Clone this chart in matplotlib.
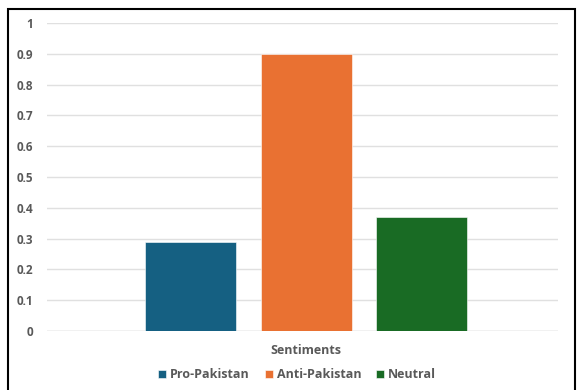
import matplotlib.pyplot as plt
from matplotlib.patches import Rectangle

# data
category = "Sentiments"
series = ["Pro-Pakistan", "Anti-Pakistan", "Neutral"]
values = [0.29, 0.90, 0.37]
colors = ["#156082", "#E97132", "#196B24"]
yticks = [0, 0.1, 0.2, 0.3, 0.4, 0.5, 0.6, 0.7, 0.8, 0.9, 1]
ytick_labels = ["0", "0.1", "0.2", "0.3", "0.4", "0.5", "0.6", "0.7", "0.8", "0.9", "1"]

plt.rcParams['font.family'] = ['Open Sans', 'DejaVu Sans']
text_color = "#595959"

fig = plt.figure(figsize=(5.77, 3.90), dpi=100)
ax = fig.add_axes([47 / 577, 1 - 331 / 390, 511 / 577, 308 / 390])

# clustered bars in a single category
width = 0.178
step = 0.226
for i, (name, v, c) in enumerate(zip(series, values, colors)):
    ax.bar((i - 1) * step, v, width=width, color=c, label=name, zorder=3,
           edgecolor="white", linewidth=0.4)

ax.set_xlim(-0.5 - 0.007, 0.5 - 0.007)
ax.set_ylim(0, 1)
ax.set_yticks(yticks)
ax.set_yticklabels(ytick_labels, fontsize=8.5, fontweight="bold", color=text_color)
ax.tick_params(axis="y", length=0, pad=10)
ax.set_xticks([0])
ax.set_xticklabels([category], fontsize=9, fontweight="bold", color=text_color)
ax.tick_params(axis="x", length=0, pad=9)
ax.grid(axis="y", color="#E0E0E0", linewidth=1, zorder=0)
for s in ax.spines.values():
    s.set_visible(False)
ax.axhline(0, color="#D9D9D9", linewidth=1, zorder=2)

leg = fig.legend(loc="center", bbox_to_anchor=(0.515, 1 - 375 / 390), ncol=3,
                 frameon=False, fontsize=9, handlelength=0.65, handleheight=0.65,
                 handletextpad=0.3, columnspacing=1.2)
for t in leg.get_texts():
    t.set_color(text_color)
    t.set_fontweight("bold")

# chart border
fig.patches.append(Rectangle((8 / 577, -0.02), 567 / 577, 1.02 - 9 / 390,
                             transform=fig.transFigure, fill=False,
                             edgecolor="black", linewidth=1.5))

fig.savefig("out.png", dpi=100)
